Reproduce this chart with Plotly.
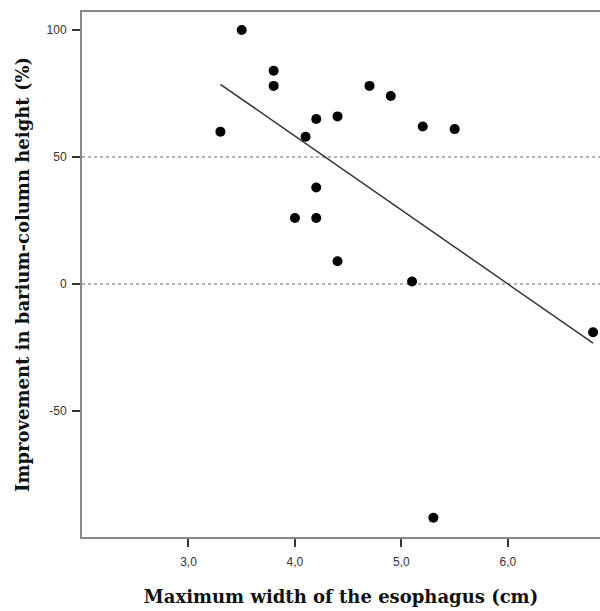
import numpy as np
import plotly.graph_objects as go

# Data
width_cm = [3.3, 3.5, 3.8, 3.8, 4.0, 4.1, 4.2, 4.2, 4.2, 4.4, 4.4, 4.7, 4.9, 5.1, 5.2, 5.5, 5.3, 6.8]
improvement = [60, 100, 84, 78, 26, 58, 65, 38, 26, 66, 9, 78, 74, 1, 62, 61, -92, -19]

x_ticks = [3, 4, 5, 6]
x_ticktext = ["3,0", "4,0", "5,0", "6,0"]
y_ticks = [-50, 0, 50, 100]
y_ticktext = ["-50", "0", "50", "100"]
ref_lines = [0, 50]

x_title = "Maximum width of the esophagus (cm)"
y_title = "Improvement in barium-column height (%)"

# Linear fit (least squares) drawn across the data range
slope, intercept = np.polyfit(width_cm, improvement, 1)
fit_x = [min(width_cm), max(width_cm)]
fit_y = [slope * v + intercept for v in fit_x]

fig = go.Figure()
fig.add_trace(go.Scatter(x=fit_x, y=fit_y, mode="lines",
                         line=dict(color="#333333", width=1.5), showlegend=False))
fig.add_trace(go.Scatter(x=width_cm, y=improvement, mode="markers",
                         marker=dict(color="black", size=10, line=dict(width=0)),
                         showlegend=False))

for v in ref_lines:
    fig.add_hline(y=v, line=dict(color="#999999", width=1.5, dash="dot"), layer="below")

title_font = dict(family="DejaVu Serif", size=18, color="#111111", weight="bold")
tick_font = dict(family="Liberation Sans", size=12, color="#333333")

fig.update_layout(
    width=600, height=611,
    margin=dict(l=82, r=0, t=12, b=74),
    paper_bgcolor="white", plot_bgcolor="white",
    xaxis=dict(range=[2.0, 6.865], tickvals=x_ticks, ticktext=x_ticktext,
               showgrid=False, zeroline=False, showline=True, linecolor="#888888",
               linewidth=2, mirror=True, ticks="outside", ticklen=8, tickwidth=2,
               tickcolor="#333333", tickfont=tick_font, ticklabelstandoff=5,
               title=dict(text=x_title, font=title_font, standoff=22)),
    yaxis=dict(range=[-99.6, 107.1], tickvals=y_ticks, ticktext=y_ticktext,
               showgrid=False, zeroline=False, showline=True, linecolor="#888888",
               linewidth=2, mirror=False, ticks="outside", ticklen=8, tickwidth=2,
               tickcolor="#333333", tickfont=tick_font, ticklabelstandoff=3,
               title=dict(text=y_title, font=title_font, standoff=12)),
)

fig.write_html("out.html")
